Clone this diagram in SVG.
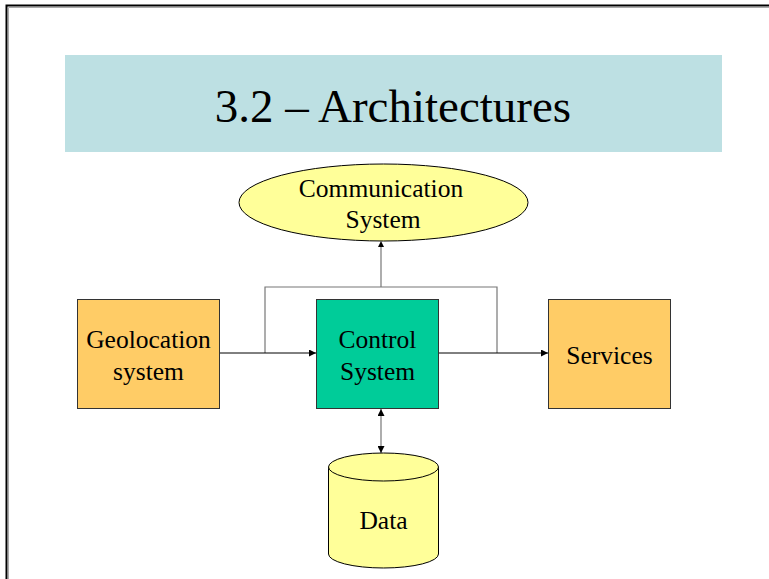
<svg xmlns="http://www.w3.org/2000/svg" width="769" height="579" viewBox="0 0 769 579">
<defs>
<style>
.t{font-family:"Liberation Serif","Times New Roman",serif;font-size:25.5px;fill:#000;text-anchor:middle}
.b{stroke:#333;stroke-width:1}
.c{fill:none;stroke:#000;stroke-width:1}
.g{fill:none;stroke:#777;stroke-width:1.2}
</style>
<marker id="ah" viewBox="0 0 10 10" refX="10" refY="5" markerWidth="7" markerHeight="7" orient="auto-start-reverse" markerUnits="userSpaceOnUse">
<path d="M0,0 L10,5 L0,10 z" fill="#000"/>
</marker>
</defs>
<rect width="769" height="579" fill="#fff"/>
<path d="M6.5,579 V5.5 H769" fill="none" stroke="#000" stroke-width="2"/>
<path d="M8.5,579 V7.5 H769" fill="none" stroke="#aaa" stroke-width="1"/>
<g id="title">
<rect x="65" y="55" width="657" height="97" fill="#bde0e3"/>
<text x="393" y="122" font-family="Liberation Serif,Times New Roman,serif" font-size="47" text-anchor="middle">3.2 – Architectures</text>
</g>
<g id="connectors">
<path class="g" d="M381,287 V245"/>
<path d="M381,241 l-3,6 h6 z" fill="#000"/>
<path class="g" d="M265,353 V287 H497 V353"/>
<path class="c" d="M220,353 H316" marker-end="url(#ah)"/>
<path class="c" d="M439,353 H548" marker-end="url(#ah)"/>
<path class="g" d="M381,409 V453" marker-start="url(#ah)" marker-end="url(#ah)"/>
</g>
<g id="comm">
<ellipse cx="383.5" cy="202.5" rx="144.5" ry="38.5" fill="#ffff99" stroke="#000"/>
<text class="t" x="381" y="197">Communication</text>
<text class="t" x="383" y="228">System</text>
</g>
<g id="geo">
<rect x="77.5" y="299.5" width="142" height="109" fill="#ffcc66" class="b"/>
<text class="t" x="148.5" y="348">Geolocation</text>
<text class="t" x="148.5" y="380">system</text>
</g>
<g id="control">
<rect x="316.5" y="299.5" width="122" height="109" fill="#00cc99" class="b"/>
<text class="t" x="377.5" y="348">Control</text>
<text class="t" x="377.5" y="380">System</text>
</g>
<g id="services">
<rect x="548.5" y="299.5" width="122" height="109" fill="#ffcc66" class="b"/>
<text class="t" x="609.5" y="364">Services</text>
</g>
<g id="data">
<path d="M328.5,467 V554 A55,14 0 0 0 438.5,554 V467" fill="#ffff99" stroke="#000"/>
<ellipse cx="383.5" cy="467" rx="55" ry="14" fill="#ffff99" stroke="#000"/>
<text class="t" x="383.5" y="529">Data</text>
</g>
</svg>
